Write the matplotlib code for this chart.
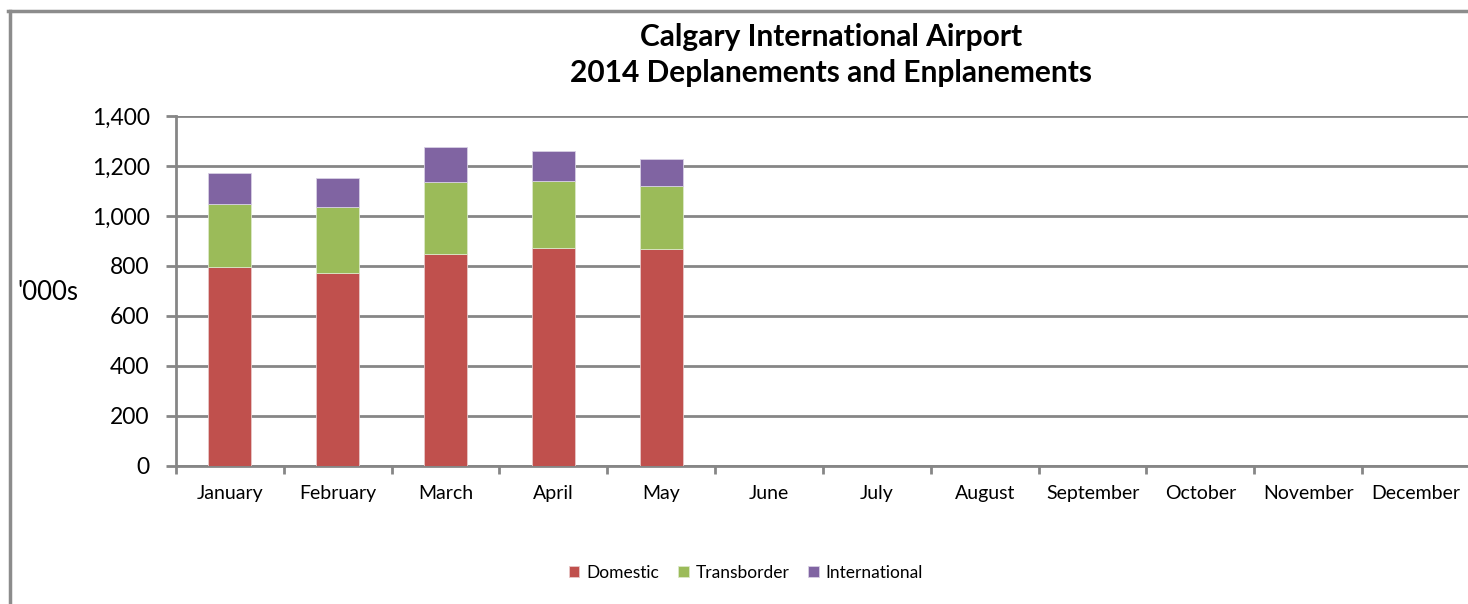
import matplotlib.pyplot as plt
from matplotlib.lines import Line2D
import numpy as np

months = ['January', 'February', 'March', 'April', 'May', 'June', 'July',
          'August', 'September', 'October', 'November', 'December']
domestic = [795, 773, 849, 871, 869]
transborder = [252, 263, 287, 270, 251]
international = [126, 116, 139, 118, 107]

plt.rcParams['font.family'] = ['Lato', 'DejaVu Sans']

fig = plt.figure(figsize=(14.68, 6.04), dpi=100)
ax = fig.add_axes([176/1468, 1-466/604, 1294/1468, 350/604])

# border round the chart area (only left and top are inside the picture)
fig.lines.append(Line2D([9.5/1468, 9.5/1468], [0, 1-10.5/604], transform=fig.transFigure,
                        color='#8c8c8c', linewidth=2.5))
fig.lines.append(Line2D([8/1468, 1.01], [1-10.5/604, 1-10.5/604], transform=fig.transFigure,
                        color='#8c8c8c', linewidth=2.5))

x = np.arange(len(domestic))
d = np.array(domestic)
t = np.array(transborder)
w = 0.4
ax.bar(x, d, w, color='#C0504D', edgecolor='#e8c8c8', linewidth=0.6, label='Domestic', zorder=3)
ax.bar(x, t, w, bottom=d, color='#9BBB59', edgecolor='#dce8c8', linewidth=0.6, label='Transborder', zorder=3)
ax.bar(x, international, w, bottom=d+t, color='#8064A2', edgecolor='#d8d0e4', linewidth=0.6,
       label='International', zorder=3)

ax.set_xlim(-0.5, len(months)-0.5)
ax.set_ylim(0, 1400)
ax.set_yticks(range(0, 1401, 200))
ax.set_yticklabels([f'{v:,}' for v in range(0, 1401, 200)], fontsize=16.5)
ax.set_xticks(range(len(months)))
ax.set_xticklabels(months, fontsize=14)
ax.set_xticks(np.arange(-0.5, len(months)), minor=True)
ax.tick_params(axis='x', which='major', length=0, pad=14)
ax.tick_params(axis='x', which='minor', length=6, width=2, color='#868686')
ax.tick_params(axis='y', length=7, width=2, color='#868686', pad=12)

ax.grid(axis='y', color='#868686', linewidth=2, zorder=0)
for s in ['top', 'right']:
    ax.spines[s].set_visible(False)
for s in ['left', 'bottom']:
    ax.spines[s].set_color('#868686')
    ax.spines[s].set_linewidth(2)

fig.text(831/1468, 1-37/604, 'Calgary International Airport', ha='center', va='center',
         fontsize=21.5, fontweight='bold')
fig.text(831/1468, 1-73/604, '2014 Deplanements and Enplanements', ha='center', va='center',
         fontsize=21.5, fontweight='bold')
fig.text(48/1468, 1-293/604, "'000s", ha='center', va='center', fontsize=18.5)

fig.legend(loc='center', bbox_to_anchor=(746/1468, 1-573/604), ncol=3, frameon=False,
           fontsize=12.5, handlelength=0.6, handleheight=0.6, handletextpad=0.4, columnspacing=1.1)

fig.savefig('out.png', dpi=100)
